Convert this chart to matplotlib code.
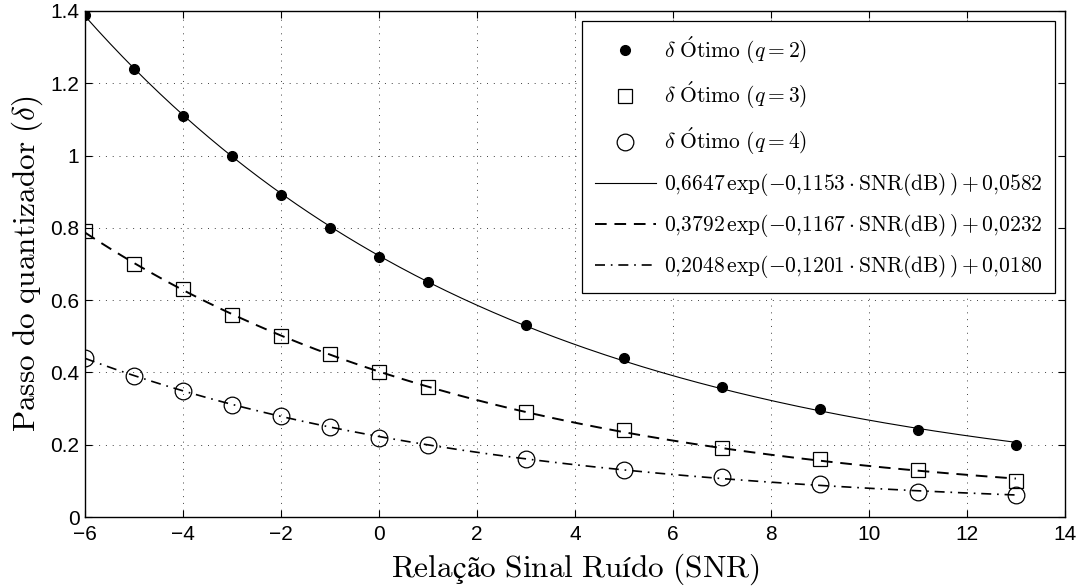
import numpy as np
import matplotlib
matplotlib.use('Agg')
import matplotlib.pyplot as plt

# SNR (dB) values where the optimum step was measured
snr = [-6, -5, -4, -3, -2, -1, 0, 1, 3, 5, 7, 9, 11, 13]

# Optimum quantizer step for each q
delta_q2 = [1.39, 1.24, 1.11, 1.00, 0.89, 0.80, 0.72, 0.65, 0.53, 0.44, 0.36, 0.30, 0.24, 0.20]
delta_q3 = [0.79, 0.70, 0.63, 0.56, 0.50, 0.45, 0.40, 0.36, 0.29, 0.24, 0.19, 0.16, 0.13, 0.10]
delta_q4 = [0.44, 0.39, 0.35, 0.31, 0.28, 0.25, 0.22, 0.20, 0.16, 0.13, 0.11, 0.09, 0.07, 0.06]

# Fitted model a*exp(b*SNR) + c, coefficients as printed in the legend
fit_a = [0.6647, 0.3792, 0.2048]
fit_b = [-0.1153, -0.1167, -0.1201]
fit_c = [0.0582, 0.0232, 0.0180]
fit_labels = [
    r'$0{,}6647\,\exp(-0{,}1153\cdot\mathrm{SNR(dB)}\,)+0{,}0582$',
    r'$0{,}3792\,\exp(-0{,}1167\cdot\mathrm{SNR(dB)}\,)+0{,}0232$',
    r'$0{,}2048\,\exp(-0{,}1201\cdot\mathrm{SNR(dB)}\,)+0{,}0180$',
]

x_ticks = [-6, -4, -2, 0, 2, 4, 6, 8, 10, 12, 14]
y_ticks = [0, 0.2, 0.4, 0.6, 0.8, 1.0, 1.2, 1.4]
y_tick_labels = ['0', '0.2', '0.4', '0.6', '0.8', '1', '1.2', '1.4']

plt.rcParams['mathtext.fontset'] = 'cm'
plt.rcParams['font.family'] = ['Liberation Sans', 'DejaVu Sans']

fig = plt.figure(figsize=(10.9, 5.88), dpi=100)
ax = fig.add_axes([0.078, 0.1207, 0.899, 0.8606])

# measured points
ax.plot(snr, delta_q2, linestyle='none', marker='o', ms=7, color='black',
        label=r'$\delta\ \mathrm{\acute{O}timo}\ (q=2)$', zorder=3)
ax.plot(snr, delta_q3, linestyle='none', marker='s', ms=10, color='black',
        mfc='none', mew=0.9, label=r'$\delta\ \mathrm{\acute{O}timo}\ (q=3)$', zorder=3)
ax.plot(snr, delta_q4, linestyle='none', marker='o', ms=12, color='black',
        mfc='none', mew=0.9, label=r'$\delta\ \mathrm{\acute{O}timo}\ (q=4)$', zorder=3)

# fitted curves
styles = [
    dict(linestyle='-', lw=0.8),
    dict(linestyle=(0, (6, 4)), lw=1.4),
    dict(linestyle=(0, (6, 3.5, 1, 3.5)), lw=1.2),
]
x_fit = np.linspace(snr[0], snr[-1], 300)
for a, b, c, lab, st in zip(fit_a, fit_b, fit_c, fit_labels, styles):
    ax.plot(x_fit, a * np.exp(b * x_fit) + c, color='black', label=lab, **st)

ax.set_xlim(-6, 14)
ax.set_ylim(0, 1.4)
ax.set_xticks(x_ticks)
ax.set_xticklabels([str(t).replace('-', '\u2212') for t in x_ticks])
ax.set_yticks(y_ticks)
ax.set_yticklabels(y_tick_labels)
ax.tick_params(direction='in', top=True, right=True, length=5, width=0.8,
               labelsize=15)
ax.tick_params(axis='x', pad=6)
ax.tick_params(axis='y', pad=4)
for sp in ax.spines.values():
    sp.set_linewidth(1.0)

ax.grid(True, color='0.25', linestyle=(0, (1, 6)), linewidth=0.7)

ax.set_xlabel(r'$\mathrm{Relação\ Sinal\ Ruído\ (SNR)}$', fontsize=22.5, labelpad=5)
ax.set_ylabel(r'$\mathrm{Passo\ do\ quantizador}\ (\delta)$', fontsize=22.5, labelpad=4)

leg = ax.legend(loc='upper right', fontsize=15.5, handlelength=2.85,
                handletextpad=0.35, labelspacing=0.65, borderpad=0.6,
                borderaxespad=0.45, fancybox=False, framealpha=1,
                edgecolor='black')
leg.get_frame().set_linewidth(0.9)

fig.savefig('out.png', dpi=100)
plt.close(fig)
